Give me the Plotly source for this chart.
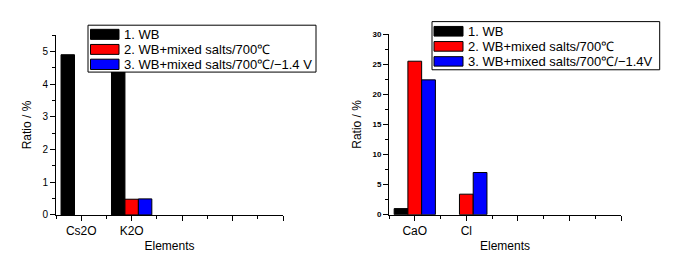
import plotly.graph_objects as go

# ---- data ----
categories_left = ["Cs2O", "K2O"]
wb_left = [4.9, 4.8]
salts_left = [0.0, 0.48]
volt_left = [0.0, 0.49]

categories_right = ["CaO", "Cl"]
wb_right = [1.0, 0.0]
salts_right = [25.5, 3.4]
volt_right = [22.4, 7.0]

n_slots = 5  # category slots on each x axis (unused slots left blank)
tick_labels_left = categories_left + [""] * (n_slots - len(categories_left))
tick_labels_right = categories_right + [""] * (n_slots - len(categories_right))

series_names_left = ["1. WB", "2. WB+mixed salts/700℃", "3. WB+mixed salts/700℃/−1.4 V"]
series_names_right = ["1. WB", "2. WB+mixed salts/700℃", "3. WB+mixed salts/700℃/−1.4V"]
colors = ["#000000", "#ff0000", "#0000ff"]

FONT = "Liberation Sans, Arial, sans-serif"
W, H = 694, 271

fig = go.Figure()

xl = list(range(len(categories_left)))
xr = list(range(len(categories_right)))


def bar(x, vals, c, name, xa, ya):
    return go.Bar(x=x, y=vals, name=name,
                  marker=dict(color=c, line=dict(color="#000000", width=[1 if v > 0 else 0 for v in vals])),
                  xaxis=xa, yaxis=ya, showlegend=False)


for vals, c, nm in zip([wb_left, salts_left, volt_left], colors, series_names_left):
    fig.add_trace(bar(xl, vals, c, nm, "x", "y"))
for vals, c, nm in zip([wb_right, salts_right, volt_right], colors, series_names_right):
    fig.add_trace(bar(xr, vals, c, nm, "x2", "y2"))


def xaxis(domain, ticktext, anchor):
    return dict(domain=domain, anchor=anchor, range=[-0.5, n_slots - 1], tickmode="array",
                tickvals=list(range(n_slots)), ticktext=ticktext, ticks="outside", ticklen=5,
                tickcolor="#000000", tickwidth=1, showline=True, linecolor="#000000", linewidth=1,
                showgrid=False, zeroline=False, tickfont=dict(size=12, color="#000000"),
                minor=dict(dtick=0.5, tick0=-0.5, ticks="outside", ticklen=3, tickcolor="#000000", showgrid=False),
                title=dict(text="Elements", font=dict(size=12, color="#000000"), standoff=4))


def yaxis(domain, rng, dtick, anchor, tfont):
    return dict(domain=domain, anchor=anchor, range=rng, dtick=dtick, ticks="outside", ticklen=5,
                tickcolor="#000000", tickwidth=1, showline=True, linecolor="#000000", linewidth=1,
                showgrid=False, zeroline=False, tickfont=tfont,
                minor=dict(dtick=dtick / 2, ticks="outside", ticklen=3, tickcolor="#000000", showgrid=False),
                title=dict(text="Ratio / %", font=dict(size=12, color="#000000"), standoff=8))


# ---- Origin-style legends drawn as shapes + text, positions in pixels ----
def px_x(v):
    return v / W


def px_y(v):
    return 1 - v / H


shapes = []
annotations = []


def legend(box, sw_x, rows, text_x, names):
    x0, y0, x1, y1 = box
    shapes.append(dict(type="rect", xref="paper", yref="paper", layer="above",
                       x0=px_x(x0), x1=px_x(x1), y0=px_y(y1), y1=px_y(y0),
                       fillcolor="#ffffff", line=dict(color="#000000", width=1)))
    for (ry0, ry1), c, nm in zip(rows, colors, names):
        shapes.append(dict(type="rect", xref="paper", yref="paper", layer="above",
                           x0=px_x(sw_x[0]), x1=px_x(sw_x[1]), y0=px_y(ry1), y1=px_y(ry0),
                           fillcolor=c, line=dict(color="#000000", width=1)))
        annotations.append(dict(xref="paper", yref="paper", x=px_x(text_x), y=px_y((ry0 + ry1) / 2),
                                xanchor="left", yanchor="middle", showarrow=False, text=nm,
                                font=dict(size=13, color="#000000", family=FONT)))


legend((88, 22, 316, 70.7), (90.5, 119), [(26.3, 36.7), (42, 52.3), (57.3, 68)], 122, series_names_left)
legend((432, 18.3, 659.7, 68.3), (434, 463), [(23.3, 33.3), (39, 49), (54.7, 64.5)], 466, series_names_right)

fig.update_layout(
    width=W, height=H, margin=dict(l=0, r=0, t=0, b=0),
    paper_bgcolor="#ffffff", plot_bgcolor="#ffffff",
    font=dict(family=FONT, color="#000000"),
    barmode="group", bargap=0.2, bargroupgap=0,
    showlegend=False,
    xaxis=xaxis([56 / W, 283 / W], tick_labels_left, "y"),
    yaxis=yaxis([1 - 219 / H, 1 - 32.3 / H], [0, 5.5], 1, "x", dict(size=10, color="#000000")),
    xaxis2=xaxis([389 / W, 621 / W], tick_labels_right, "y2"),
    yaxis2=yaxis([1 - 218.7 / H, 1 - 31.3 / H], [0, 30], 5, "x2",
                 dict(size=8, color="#000000", weight="bold")),
    shapes=shapes,
    annotations=annotations,
)

fig.write_html("out.html", config={"displayModeBar": False},
               post_script="document.body.style.margin='0';document.body.style.overflow='hidden';")
